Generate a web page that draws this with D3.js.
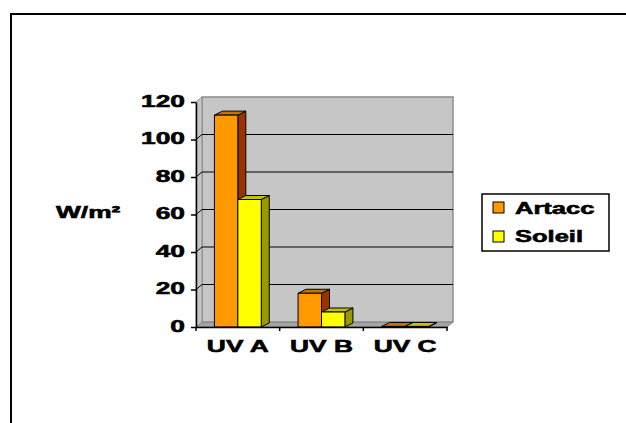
<!DOCTYPE html>
<html><head><meta charset="utf-8">
<script src="https://cdn.jsdelivr.net/npm/d3@7"></script>
<style>body{margin:0;background:#fff}svg{display:block}</style>
</head><body>
<script>
const categories = ["UV A", "UV B", "UV C"];
const seriesNames = ["Artacc", "Soleil"];
const artacc = [113, 18, 0.3];
const soleil = [68, 8, 0.3];
const yTicks = [0, 20, 40, 60, 80, 100, 120];
const yLabel = "W/m²";

const colors = {
  Artacc: {front: "#FF9900", top: "#C27400", side: "#993300"},
  Soleil: {front: "#FFFF00", top: "#C2C200", side: "#999900"}
};
const W = 626, H = 423;
const FONT = "'Liberation Sans', Arial, sans-serif";
const SX = 1.55;
const TS = 0.9; // text stroke to emulate heavy bitmap font

const svg = d3.select("body").append("svg").attr("width", W).attr("height", H);
svg.append("rect").attr("width", W).attr("height", H).attr("fill", "#fff");
svg.append("rect").attr("x", 11).attr("y", 14).attr("width", 700).attr("height", 500)
  .attr("fill", "none").attr("stroke", "#000").attr("stroke-width", 2);

const left = 196, right = 447, base = 327, topY = 102;
const wdx = 6, wdy = -5, bdx = 8, bdy = -4;
const y = d3.scaleLinear().domain([0, 120]).range([base, topY]);
const x0 = d3.scaleBand().domain(categories).range([left, right]);
const bw = x0.bandwidth();
const x1 = d3.scaleBand().domain(seriesNames).range([bw * 0.22, bw * 0.78]);

function styleText(sel, sx) {
  sel.attr("font-family", FONT).attr("font-size", 17).attr("font-weight", "bold")
    .attr("fill", "#000").attr("stroke", "#000").attr("stroke-width", TS / sx)
    .attr("paint-order", "stroke");
}

// walls
const g = svg.append("g");
g.append("polygon")
  .attr("points", [[left, base], [left + wdx, base + wdy], [right + wdx, base + wdy], [right, base]].join(" "))
  .attr("fill", "#a4a4a4").attr("stroke", "#808080");
g.append("rect").attr("x", left + wdx).attr("y", topY + wdy)
  .attr("width", right - left).attr("height", base - topY)
  .attr("fill", "#c6c6c6").attr("stroke", "#8c8c8c").attr("stroke-width", 1.5);
g.append("polygon")
  .attr("points", [[left, topY], [left + wdx, topY + wdy], [left + wdx, base + wdy], [left, base]].join(" "))
  .attr("fill", "#c6c6c6").attr("stroke", "#8c8c8c");

// gridlines
yTicks.filter(t => t > 0 && t < 120).forEach(t => {
  g.append("path")
    .attr("d", `M${left},${y(t)}L${left + wdx},${y(t) + wdy}H${right + wdx}`)
    .attr("fill", "none").attr("stroke", "#000").attr("stroke-width", 1);
});

// bars
const data = categories.map((c, i) => ({c, vals: [{s: "Artacc", v: artacc[i]}, {s: "Soleil", v: soleil[i]}]}));
data.forEach(d => {
  d.vals.forEach(b => {
    const x = x0(d.c) + x1(b.s), w = x1.bandwidth(), yt = y(b.v);
    const col = colors[b.s];
    const bg = g.append("g").attr("stroke", "#000").attr("stroke-width", 1).attr("stroke-linejoin", "round");
    bg.append("polygon")
      .attr("points", [[x + w, yt], [x + w + bdx, yt + bdy], [x + w + bdx, base + bdy], [x + w, base]].join(" "))
      .attr("fill", col.side);
    bg.append("polygon")
      .attr("points", [[x, yt], [x + bdx, yt + bdy], [x + w + bdx, yt + bdy], [x + w, yt]].join(" "))
      .attr("fill", col.top);
    bg.append("rect").attr("x", x).attr("y", yt).attr("width", w).attr("height", base - yt)
      .attr("fill", col.front);
  });
});

// axes
const yAxis = svg.append("g").attr("transform", `translate(${left},0)`)
  .call(d3.axisLeft(y).tickValues(yTicks).tickSize(5).tickSizeOuter(0));
yAxis.select(".domain").attr("stroke", "#000").attr("stroke-width", 1.5);
yAxis.selectAll(".tick line").attr("stroke", "#000").attr("stroke-width", 1.5);
yAxis.selectAll(".tick text")
  .attr("x", 0).attr("dy", "0.3em")
  .attr("transform", `translate(-11,-1) scale(${SX},1)`)
  .call(styleText, SX);

const xAxis = svg.append("g").attr("transform", `translate(0,${base})`)
  .call(d3.axisBottom(x0).tickSize(0).tickPadding(13));
xAxis.select(".domain").attr("stroke", "#000").attr("stroke-width", 1.5);
xAxis.selectAll(".tick text")
  .call(styleText, SX)
  .attr("transform", `scale(${SX},1)`).attr("x", 0);
// tick marks at category boundaries
const bounds = categories.map(c => x0(c)).concat([x0(categories[categories.length - 1]) + bw]);
xAxis.selectAll(".btick").data(bounds).join("line").attr("class", "btick")
  .attr("x1", d => d).attr("x2", d => d).attr("y1", 0).attr("y2", 4)
  .attr("stroke", "#000").attr("stroke-width", 1.5);

// y label
svg.append("text").attr("transform", `translate(56,218) scale(${SX},1)`)
  .call(styleText, SX).text(yLabel);

// legend
const lg = svg.append("g");
lg.append("rect").attr("x", 482).attr("y", 194).attr("width", 127).attr("height", 57)
  .attr("fill", "#fff").attr("stroke", "#000").attr("stroke-width", 1.5);
seriesNames.forEach((s, i) => {
  lg.append("rect").attr("x", 493).attr("y", 202 + i * 29).attr("width", 11).attr("height", 11)
    .attr("fill", colors[s].front).attr("stroke", "#000").attr("stroke-width", 1);
  lg.append("text").attr("transform", `translate(515,${214 + i * 28}) scale(1.5,1)`)
    .call(styleText, 1.5).text(s);
});
</script>
</body></html>
